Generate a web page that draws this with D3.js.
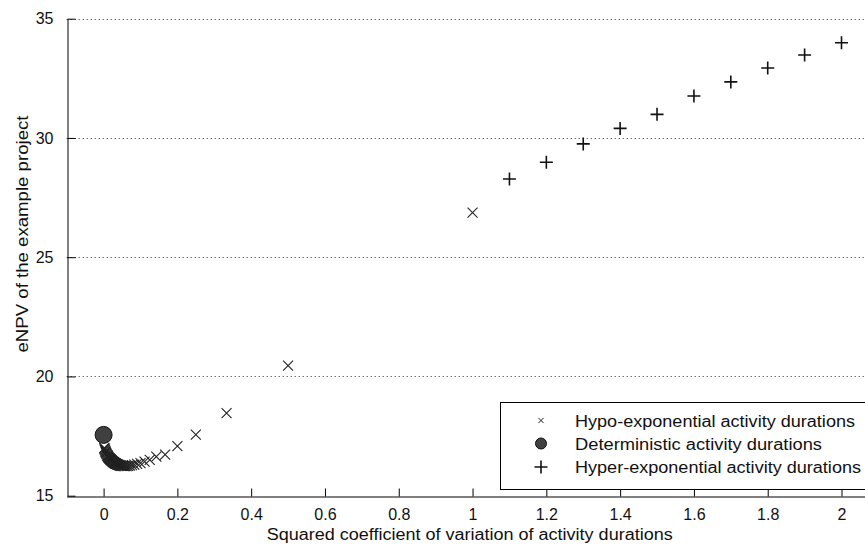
<!DOCTYPE html>
<html>
<head>
<meta charset="utf-8">
<script src="https://cdn.jsdelivr.net/npm/d3@7"></script>
<style>
  body { margin: 0; background: #fff; }
  svg { display: block; font-family: "Liberation Sans", Arial, sans-serif; }
</style>
</head>
<body>
<div id="chart"></div>
<script>
// hypo-exponential runs (x = squared CV, y = eNPV)
const hypoX = [1, 0.5, 0.3333, 0.25, 0.2, 0.1667, 0.1429, 0.125, 0.1111, 0.1,
  0.0909, 0.0833, 0.0769, 0.0714, 0.0667, 0.0625, 0.0588, 0.0556, 0.0526, 0.05,
  0.0476, 0.0455, 0.0435, 0.0417, 0.04, 0.0385, 0.037, 0.0357, 0.0345, 0.0333,
  0.0323, 0.0313, 0.0303, 0.0294, 0.0286, 0.0278, 0.027, 0.0263, 0.0256, 0.025,
  0.0238, 0.0227, 0.0217, 0.0208, 0.02, 0.0192, 0.0185, 0.0179, 0.0172, 0.0167,
  0.0154, 0.0143, 0.0133, 0.0125, 0.0118, 0.0111, 0.0105, 0.01,
  0.0083, 0.0071, 0.0063, 0.0056, 0.005, 0.004, 0.0033, 0.0025, 0.002];
const hypoY = [26.87, 20.45, 18.46, 17.56, 17.08, 16.72, 16.64, 16.50, 16.43, 16.37,
  16.33, 16.30, 16.28, 16.26, 16.25, 16.24, 16.24, 16.24, 16.25, 16.25,
  16.25, 16.26, 16.27, 16.28, 16.29, 16.30, 16.31, 16.32, 16.33, 16.34,
  16.35, 16.36, 16.37, 16.38, 16.39, 16.40, 16.41, 16.42, 16.42, 16.43,
  16.45, 16.46, 16.48, 16.49, 16.50, 16.51, 16.52, 16.53, 16.54, 16.55,
  16.57, 16.59, 16.61, 16.63, 16.65, 16.67, 16.68, 16.70,
  16.74, 16.78, 16.81, 16.84, 16.86, 16.90, 16.93, 16.97, 17.00];

const detX = [0];
const detY = [17.55];

const hyperX = [1.1, 1.2, 1.3, 1.4, 1.5, 1.6, 1.7, 1.8, 1.9, 2.0];
const hyperY = [28.28, 28.98, 29.75, 30.40, 30.99, 31.76, 32.35, 32.93, 33.48, 33.99];

const xTicks = [0, 0.2, 0.4, 0.6, 0.8, 1, 1.2, 1.4, 1.6, 1.8, 2];
const yTicks = [15, 20, 25, 30, 35];
const gridTicks = [20, 25, 30, 35];

const legendLabels = ['Hypo-exponential activity durations',
  'Deterministic activity durations',
  'Hyper-exponential activity durations'];

const width = 865, height = 547;
const plotLeft = 66.7, plotRight = 878.4, plotTop = 18.7, plotBottom = 495.7;

const x = d3.scaleLinear().domain([-0.1, 2.1]).range([plotLeft, plotRight]);
const y = d3.scaleLinear().domain([15, 35]).range([plotBottom, plotTop]);

const svg = d3.select('#chart').append('svg')
  .attr('width', width)
  .attr('height', height)
  .style('overflow', 'hidden');

// dotted horizontal grid
svg.append('g').selectAll('line')
  .data(gridTicks)
  .join('line')
  .attr('x1', plotLeft).attr('x2', plotRight)
  .attr('y1', d => Math.round(y(d)) + 0.5).attr('y2', d => Math.round(y(d)) + 0.5)
  .attr('stroke', '#333')
  .attr('stroke-width', 1)
  .attr('stroke-dasharray', '1,3');

const xAxis = d3.axisBottom(x)
  .tickValues(xTicks)
  .tickFormat(d => d3.format('')(d))
  .tickSizeInner(-8)
  .tickSizeOuter(0)
  .tickPadding(12);

const yAxis = d3.axisLeft(y)
  .tickValues(yTicks)
  .tickSizeInner(-8)
  .tickSizeOuter(0)
  .tickPadding(14);

const gx = svg.append('g')
  .attr('transform', `translate(0,${Math.round(plotBottom) + 0.5})`)
  .call(xAxis);
const gy = svg.append('g')
  .attr('transform', `translate(${Math.round(plotLeft) + 0.5},0)`)
  .call(yAxis);

[gx, gy].forEach(g => {
  g.selectAll('path, line').attr('stroke', '#000');
  g.selectAll('text').attr('fill', '#111').style('font-size', '16px');
});

// axis titles
svg.append('text')
  .attr('x', 469.7).attr('y', 540)
  .attr('text-anchor', 'middle')
  .attr('textLength', 406).attr('lengthAdjust', 'spacingAndGlyphs')
  .style('font-size', '16px').attr('fill', '#111')
  .text('Squared coefficient of variation of activity durations');

svg.append('text')
  .attr('transform', 'translate(28,234) rotate(-90)')
  .attr('text-anchor', 'middle')
  .attr('textLength', 237).attr('lengthAdjust', 'spacingAndGlyphs')
  .style('font-size', '16px').attr('fill', '#111')
  .text('eNPV of the example project');

const crossPath = s => `M${-s},${-s}L${s},${s}M${-s},${s}L${s},${-s}`;
const plusPath = s => `M${-s},0L${s},0M0,${-s}L0,${s}`;

const hypo = hypoX.map((v, i) => [v, hypoY[i]]);
const hyper = hyperX.map((v, i) => [v, hyperY[i]]);
const det = detX.map((v, i) => [v, detY[i]]);

svg.append('g').selectAll('path')
  .data(hypo)
  .join('path')
  .attr('transform', d => `translate(${x(d[0])},${y(d[1])})`)
  .attr('d', crossPath(5))
  .attr('fill', 'none')
  .attr('stroke', '#222')
  .attr('stroke-width', 1.1);

svg.append('g').selectAll('path')
  .data(hyper)
  .join('path')
  .attr('transform', d => `translate(${x(d[0])},${y(d[1])})`)
  .attr('d', plusPath(6.5))
  .attr('fill', 'none')
  .attr('stroke', '#111')
  .attr('stroke-width', 1.6);

svg.append('g').selectAll('circle')
  .data(det)
  .join('circle')
  .attr('cx', d => x(d[0]))
  .attr('cy', d => y(d[1]))
  .attr('r', 8.5)
  .attr('fill', '#404040')
  .attr('stroke', '#111')
  .attr('stroke-width', 1);

// legend
const lg = svg.append('g');
lg.append('rect')
  .attr('x', 500.5).attr('y', 402.5)
  .attr('width', 400).attr('height', 87)
  .attr('fill', '#fff')
  .attr('stroke', '#000');

const rowY = [420.5, 443.5, 467];
lg.append('path')
  .attr('transform', `translate(541,${rowY[0]})`)
  .attr('d', crossPath(2.6))
  .attr('stroke', '#222').attr('fill', 'none');
lg.append('circle')
  .attr('cx', 541).attr('cy', rowY[1]).attr('r', 5.5)
  .attr('fill', '#404040').attr('stroke', '#111');
lg.append('path')
  .attr('transform', `translate(541,${rowY[2]})`)
  .attr('d', plusPath(6.5))
  .attr('stroke', '#111').attr('stroke-width', 1.6).attr('fill', 'none');

const legendWidths = [280, 247, 286];
lg.selectAll('text.lab')
  .data(legendLabels)
  .join('text')
  .attr('class', 'lab')
  .attr('x', 575)
  .attr('y', (d, i) => rowY[i] + 6)
  .attr('textLength', (d, i) => legendWidths[i])
  .attr('lengthAdjust', 'spacingAndGlyphs')
  .style('font-size', '16px')
  .attr('fill', '#111')
  .text(d => d);
</script>
</body>
</html>
